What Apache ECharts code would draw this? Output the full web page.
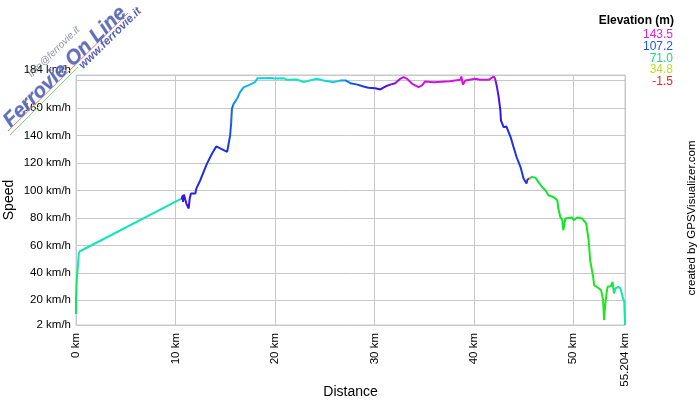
<!DOCTYPE html>
<html><head><meta charset="utf-8">
<script src="https://cdn.jsdelivr.net/npm/echarts@6/dist/echarts.min.js"></script>
<style>html,body{margin:0;padding:0;background:#fff}#c{width:700px;height:400px}</style>
</head><body><div id="c"></div>
<script>
// ---- data ----
const distKm = [0.00,0.00,0.08,0.08,0.15,0.18,0.25,0.28,0.36,10.60,10.76,10.76,10.85,10.95,11.10,11.33,11.43,11.56,12.00,12.10,12.50,12.83,13.17,13.67,14.10,14.30,15.20,15.35,15.50,15.60,15.68,15.85,16.20,16.50,16.85,17.50,18.00,18.26,19.00,19.50,20.00,20.90,21.20,22.20,22.90,23.50,24.20,24.90,25.90,26.60,27.10,27.60,28.30,28.90,29.40,30.10,30.60,31.10,31.60,32.10,32.60,32.95,33.30,33.80,34.45,34.80,35.10,35.96,37.60,38.65,38.75,38.90,39.15,40.15,40.65,41.50,42.00,42.15,42.33,42.50,42.67,42.73,43.00,43.27,43.70,44.00,44.30,44.70,45.00,45.30,45.40,45.85,46.20,46.50,46.86,47.20,47.50,48.00,48.40,48.50,48.70,48.90,49.00,49.20,49.90,50.05,50.40,50.90,51.10,51.30,51.55,51.70,52.00,52.10,52.35,52.55,52.80,53.00,53.10,53.20,53.35,53.45,53.80,53.95,54.10,54.25,54.50,54.75,55.00,55.13,55.204];
const speedKmh = [10,21,22,35,36,44,45,54,55.5,94,96.5,91.6,97,96.5,90.4,86.8,94,97.7,97.7,101.3,107.4,113.4,119.5,126.7,132,131,128,127.9,140,148.5,159.5,163,166.7,171.5,175,177,178.8,181.7,181.7,181.9,181.5,181.7,180.5,180.7,178.8,180,181.2,180,178.8,180,180,178,177,175.6,174.7,174.4,173.5,175.6,177,178,181.2,182.4,181.2,177.6,175.2,176.4,179.3,178.8,179.5,180.5,182.9,177,180,181.2,180.5,180.5,182.9,181,175.2,168,158.2,151,146,146.6,138.8,131.5,124.3,117,108.6,105,107.9,109.8,109.3,106,102.5,100.1,96.5,95.2,92.8,86.8,80.7,78.3,71,79.5,80.3,78.3,80.3,79.5,80.3,75.9,63.8,49.2,37.1,31,29.8,31,27.4,20.2,5.6,15.3,25,29.8,30.3,33.4,25,28.7,29.8,28.7,21.4,19,2];
const elevM = [66,66,67,67,67,68,68,68,79,79,121,121,121,121,120,119,118,116,115,114,113,113,112,112,112,112,111,110,108,106,102,98,95,93,91,89,88,87,86,86,85,82,80,80,81,82,84,86,88,95,100,105,108,110,114,118,120,125,130,134,138,140,140,140,141,141,141,141,141,141,141,141,141,140,140,138,130,126,122,118,116,114,112,112,111,111,110,110,110,-1.5,66,64,63,62,61,60,60,59,59,59,59,59,59,59,59,59,59,58,58,57,57,56,56,56,56,56,56,56,56,56,58,62,72,77,78,78,78,78,78,78,78];
const xTicks = [0,10,20,30,40,50,55.204];
const yTicks = [2,20,40,60,80,100,120,140,160,180,184];
const legendTitle = 'Elevation (m)';
const legendValues = ['143.5','107.2','71.0','34.8','-1.5'];
const legendColors = ['#dd22dd','#2255ee','#11dd77','#bbdd22','#ee2222'];
const ELEV_MIN = -1.5, ELEV_MAX = 143.5;
// elevation colour scale (red -> yellow -> green -> cyan -> blue -> magenta)
const palette = ['#e61010','#e66910','#e6c210','#b0e610','#57e610','#10e622','#10e67b','#10e6d4','#109fe6','#1045e6','#3410e6','#8d10e6','#e610e6'];

function hex(c){return [parseInt(c.slice(1,3),16),parseInt(c.slice(3,5),16),parseInt(c.slice(5,7),16)];}
function elevColor(e){
  let t=(e-ELEV_MIN)/(ELEV_MAX-ELEV_MIN)*(palette.length-1);
  t=Math.max(0,Math.min(palette.length-1,t));
  const i=Math.min(palette.length-2,Math.floor(t)), f=t-i;
  const a=hex(palette[i]), b=hex(palette[i+1]);
  return 'rgb('+a.map((v,k)=>Math.round(v+(b[k]-v)*f)).join(',')+')';
}
const xMax = xTicks[xTicks.length-1];
const data = distKm.map((d,i)=>[d,speedKmh[i],elevM[i]]);
const stops = [];
for(let i=0;i<distKm.length-1;i++){
  const c = elevColor(elevM[i]);
  stops.push({offset:distKm[i]/xMax,color:c});
  stops.push({offset:distKm[i+1]/xMax,color:c});
}

const FONT='Liberation Sans, Arial, sans-serif';
const chart = echarts.init(document.getElementById('c'), null, {renderer:'canvas'});
const graphics = [
  {type:'text', x:674, y:21, style:{text:legendTitle, font:'bold 12px '+FONT, fill:'#000', align:'right', verticalAlign:'middle'}},
  {type:'text', x:692, y:218, rotation:Math.PI/2, style:{text:'created by GPSVisualizer.com', font:'11.5px '+FONT, fill:'#000', align:'center', verticalAlign:'middle'}},
  // watermark logo
  {type:'line', shape:{x1:8,y1:131,x2:128,y2:13}, style:{stroke:'#ff7070', lineWidth:1}, z:100},
  {type:'line', shape:{x1:10,y1:135,x2:78,y2:67}, style:{stroke:'#70e070', lineWidth:1}, z:100},
  {type:'text', x:72, y:74, rotation:0.775, style:{text:'Ferrovie On Line', font:'italic bold 20.5px '+FONT, fill:'rgba(80,96,176,0.9)', stroke:'rgba(200,205,235,0.8)', lineWidth:1, align:'center', verticalAlign:'bottom'}, z:101},
  {type:'text', x:106, y:34, rotation:0.775, style:{text:'www.ferrovie.it', font:'italic bold 11.5px '+FONT, fill:'rgba(70,80,170,0.9)', align:'center', verticalAlign:'top'}, z:101},
  {type:'text', x:54, y:52, rotation:0.775, style:{text:'info@ferrovie.it', font:'italic 10px '+FONT, fill:'rgba(130,135,150,0.9)', align:'center', verticalAlign:'middle'}, z:101}
];
legendValues.forEach((v,i)=>{
  graphics.push({type:'text', x:673, y:35+i*11.7, style:{text:v, font:'12px '+FONT, fill:legendColors[i], align:'right', verticalAlign:'middle'}});
});

chart.setOption({
  animation:false,
  backgroundColor:'#fff',
  grid:{left:76, right:75, top:75, bottom:75, show:true, borderColor:'#c8c8c8', borderWidth:1, containLabel:false, outerBoundsMode:'none'},
  xAxis:{type:'value', min:0, max:xMax,
    name:'Distance', nameLocation:'middle', nameGap:60, nameMoveOverlap:false,
    nameTextStyle:{fontFamily:FONT, fontSize:14, color:'#000'},
    axisLine:{show:false}, axisTick:{show:false, customValues:xTicks},
    axisLabel:{customValues:xTicks, rotate:90, margin:8, fontFamily:FONT, fontSize:11.5, color:'#000', hideOverlap:false, showMinLabel:true, showMaxLabel:true, formatter:v=>v+' km'},
    splitLine:{show:true, lineStyle:{color:'#c8c8c8', width:1}}},
  yAxis:{type:'value', min:yTicks[0], max:yTicks[yTicks.length-1],
    name:'Speed', nameLocation:'middle', nameGap:60, nameRotate:90, nameMoveOverlap:false,
    nameTextStyle:{fontFamily:FONT, fontSize:14, color:'#000'},
    axisLine:{show:false}, axisTick:{show:false, customValues:yTicks},
    axisLabel:{customValues:yTicks, margin:5, fontFamily:FONT, fontSize:11.5, color:'#000', hideOverlap:false, showMinLabel:true, showMaxLabel:true,
      formatter:v=> v===184 ? '{top|'+v+' km/h}' : (v===180 ? '{gray|'+v+' km/h}' : v+' km/h'),
      rich:{top:{fontFamily:FONT, fontSize:11.5, color:'#000', padding:[0,0,10,0]}, gray:{fontFamily:FONT, fontSize:11.5, color:'#8a8a8a'}}},
    splitLine:{show:true, lineStyle:{color:'#c8c8c8', width:1}}},
  series:[{type:'line', data:data, encode:{x:0,y:1}, showSymbol:false, symbol:'none', silent:true,
    lineStyle:{width:2, color:new echarts.graphic.LinearGradient(0,0,1,0,stops,false)},
    emphasis:{disabled:true}}],
  graphic:graphics
});
</script></body></html>
